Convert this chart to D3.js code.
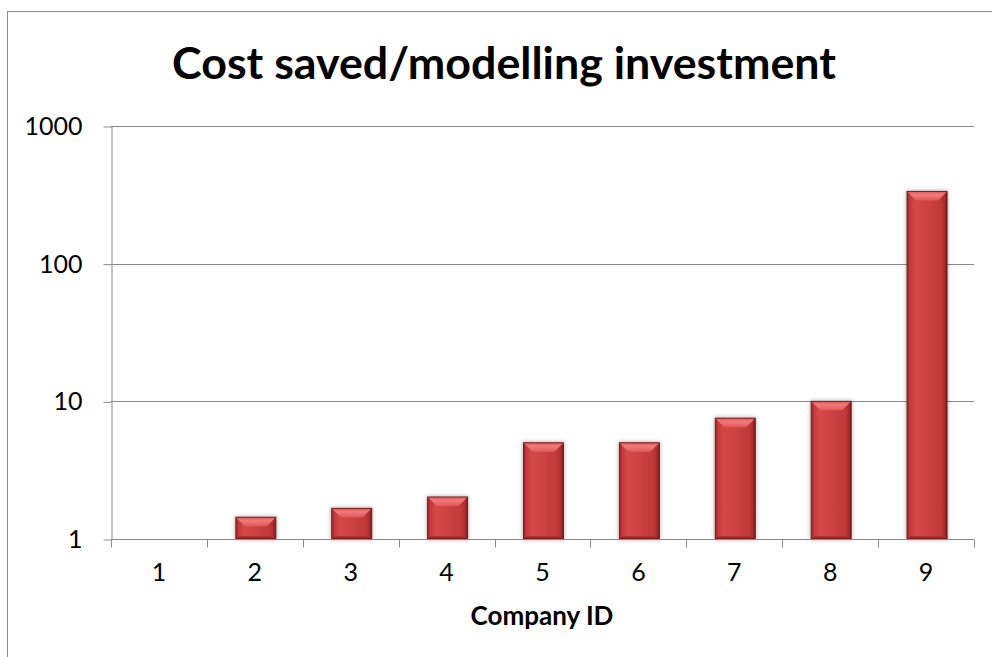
<!DOCTYPE html>
<html><head><meta charset="utf-8">
<script src="https://cdn.jsdelivr.net/npm/d3@7"></script>
<style>html,body{margin:0;padding:0;background:#fff;}svg{display:block;}</style>
</head><body>
<svg id="c" width="992" height="657"></svg>
<script>
const categories = ["1","2","3","4","5","6","7","8","9"];
const values = [1, 1.44, 1.67, 2.02, 5, 5, 7.55, 10, 335];
const yTicks = [1, 10, 100, 1000];
const titleText = "Cost saved/modelling investment";
const xTitle = "Company ID";

const W = 992, H = 657;
const m = {left: 111, right: 974, top: 126, bottom: 539};
const svg = d3.select("#c");
const FONT = "Lato, 'Open Sans', sans-serif";
const axisCol = "#8a8a8a";

const defs = svg.append("defs");
const g1 = defs.append("linearGradient").attr("id","body").attr("x1","0").attr("x2","1").attr("y1","0").attr("y2","0");
[[0,"#9c2424"],[0.07,"#c33a3a"],[0.2,"#d44848"],[0.45,"#cf4343"],[0.85,"#c03939"],[0.94,"#a92d2d"],[1,"#7e1a1a"]]
  .forEach(([o,c])=>g1.append("stop").attr("offset",o).attr("stop-color",c));
const g2 = defs.append("linearGradient").attr("id","bevel").attr("x1","0").attr("x2","0").attr("y1","0").attr("y2","1");
[[0,"#e45a5a"],[0.4,"#f07a7a"],[1,"#e05858"]].forEach(([o,c])=>g2.append("stop").attr("offset",o).attr("stop-color",c));
const g3 = defs.append("linearGradient").attr("id","bot").attr("x1","0").attr("x2","0").attr("y1","0").attr("y2","1");
[[0,"#b83232"],[1,"#8f2020"]].forEach(([o,c])=>g3.append("stop").attr("offset",o).attr("stop-color",c));
const f = defs.append("filter").attr("id","sh").attr("x","-50%").attr("y","-50%").attr("width","200%").attr("height","200%");
f.append("feGaussianBlur").attr("stdDeviation",2.2);

// outer frame
svg.append("rect").attr("x",7.5).attr("y",11.5).attr("width",1100).attr("height",800)
  .attr("fill","none").attr("stroke","#8c8c8c").attr("stroke-width",1);

const x = d3.scaleBand().domain(categories).range([m.left, m.right]).paddingInner(0).paddingOuter(0);
const y = d3.scaleLog().domain([1,1000]).range([m.bottom, m.top]);

// gridlines
svg.append("g").selectAll("line").data(yTicks.filter(d=>d>1)).join("line")
  .attr("x1",m.left).attr("x2",m.right)
  .attr("y1",d=>Math.round(y(d))+0.5).attr("y2",d=>Math.round(y(d))+0.5)
  .attr("stroke",axisCol).attr("stroke-width",1);

// y axis
const ya = d3.axisLeft(y).tickValues(yTicks).tickFormat(d3.format("d")).tickSizeInner(8).tickSizeOuter(0).tickPadding(21);
const yg = svg.append("g").attr("transform",`translate(${m.left+0.5},0.5)`).call(ya);
yg.select(".domain").attr("stroke",axisCol);
yg.selectAll(".tick line").attr("stroke",axisCol);
yg.selectAll("text").attr("font-family",FONT).attr("font-size",25).attr("fill","#000");

// bars
const bw = 40;
const bars = svg.append("g");
categories.forEach((c,i)=>{
  const v = values[i];
  const x0 = x(c) + x.bandwidth()/2 - bw/2 + 1;
  const yt = y(v), yb = y(1);
  const h = yb - yt;
  if (h < 1) return;
  const g = bars.append("g");
  g.append("rect").attr("x",x0-1).attr("y",yt-1).attr("width",bw+2).attr("height",h+2)
    .attr("fill","#000").attr("opacity",0.28).attr("filter","url(#sh)");
  g.append("rect").attr("x",x0).attr("y",yt).attr("width",bw).attr("height",h).attr("fill","url(#body)");
  const b = Math.min(9, h/2);
  g.append("polygon").attr("points",[[x0,yt],[x0+bw,yt],[x0+bw-b,yt+b],[x0+b,yt+b]].map(p=>p.join(",")).join(" "))
    .attr("fill","url(#bevel)");
  const bb = Math.min(3, h/2);
  g.append("polygon").attr("points",[[x0,yb],[x0+bw,yb],[x0+bw-bb,yb-bb],[x0+bb,yb-bb]].map(p=>p.join(",")).join(" "))
    .attr("fill","url(#bot)");
  g.append("rect").attr("x",x0).attr("y",yt).attr("width",bw).attr("height",h)
    .attr("fill","none").attr("stroke","#6a1414").attr("stroke-width",0.9);
});

// x axis
const xa = d3.axisBottom(x).tickSize(0).tickPadding(24);
const xg = svg.append("g").attr("transform",`translate(0,${m.bottom+0.5})`).call(xa);
xg.select(".domain").attr("stroke",axisCol).attr("d",`M${m.left},0H${m.right}`);
xg.selectAll("text").attr("font-family",FONT).attr("font-size",25).attr("fill","#000");
const bounds = categories.map(c=>x(c)).concat([x(categories[categories.length-1])+x.bandwidth()]);
xg.append("g").selectAll("line").data(bounds).join("line")
  .attr("x1",d=>Math.round(d)+0.5).attr("x2",d=>Math.round(d)+0.5).attr("y1",0).attr("y2",8)
  .attr("stroke",axisCol);

// title
const t = svg.append("text").attr("x",504).attr("y",79).attr("text-anchor","middle")
  .attr("font-family",FONT).attr("font-weight","bold").attr("font-size",40).attr("fill","#000").text(titleText);
let tw = t.node().getComputedTextLength();
t.attr("font-size", 40*664/tw);

const xt = svg.append("text").attr("x",542).attr("y",625).attr("text-anchor","middle")
  .attr("font-family",FONT).attr("font-weight","bold").attr("font-size",26).attr("fill","#000").text(xTitle);
</script>
</body></html>
